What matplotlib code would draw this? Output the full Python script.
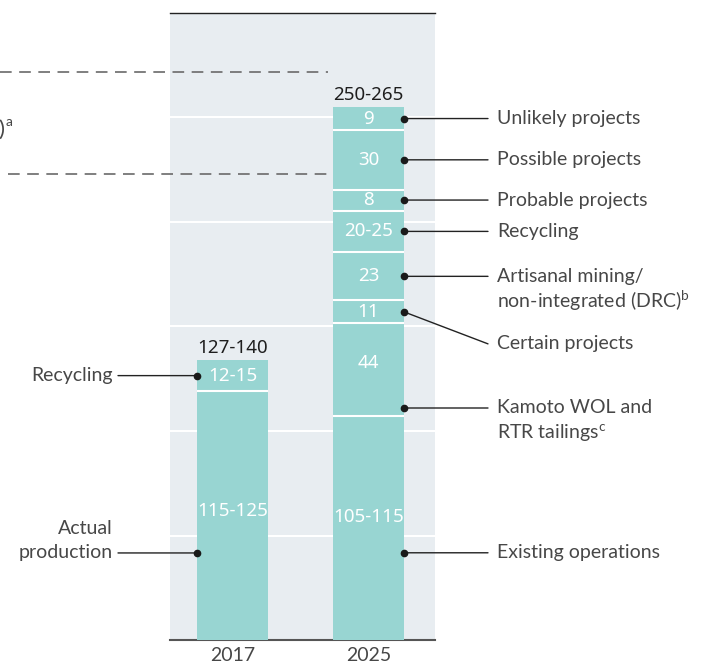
import matplotlib
matplotlib.use('Agg')
import matplotlib.pyplot as plt

plt.rcParams['font.family'] = ['Lato', 'DejaVu Sans']
plt.rcParams['mathtext.fontset'] = 'custom'
plt.rcParams['mathtext.rm'] = 'Lato'
plt.rcParams['mathtext.it'] = 'Lato'

# ---------------- data ----------------
years = ['2017', '2025']
values_2017 = [119, 15]
labels_2017 = ['115-125', '12-15']
values_2025 = [107, 44.5, 11, 23, 20, 10, 28.5, 11]
labels_2025 = ['105-115', '44', '11', '23', '20-25', '8', '30', '9']
totals = ['127-140', '250-265']
names_2017 = [['Actual', 'production'], ['Recycling']]
names_2025 = [['Existing operations'],
              ['Kamoto WOL and', r'RTR tailings$^{\mathrm{c}}$'],
              ['Certain projects'],
              ['Artisanal mining/', r'non-integrated (DRC)$^{\mathrm{b}}$'],
              ['Recycling'],
              ['Probable projects'],
              ['Possible projects'],
              ['Unlikely projects']]
grid_values = [50, 100, 150, 200, 250]
dashed_levels = [272, 223]

# ---------------- style ----------------
BAR = '#98D5D2'
PANEL = '#E8EDF1'
TXT = '#474747'
DARK = '#1e1e1e'
FS = 14
NUMFONT = ['Noto Sans', 'DejaVu Sans']
PT = 0.72  # points per pixel at dpi 100

fig = plt.figure(figsize=(7.12, 6.68), dpi=100)
ax = fig.add_axes([170 / 712, 28 / 668, 265 / 712, 627 / 668])
ax.set_facecolor(PANEL)
ax.set_xlim(-0.4596, 1.489)
ax.set_ylim(0, 300)
width = 0.522

for g in grid_values:
    ax.axhline(g, color='white', lw=1.5, zorder=1)

for sp in ['left', 'right']:
    ax.spines[sp].set_visible(False)
ax.spines['top'].set_color('#222222')
ax.spines['top'].set_linewidth(1.0)
ax.spines['bottom'].set_color('#555555')
ax.spines['bottom'].set_linewidth(1.5)
ax.set_yticks([])
ax.set_xticks([0, 1])
ax.set_xticklabels(years, fontsize=FS, color=TXT)
ax.tick_params(axis='x', length=0, pad=5)

# dashed reference lines (extend left out of panel)
ax.plot([-1.71, 0.70], [dashed_levels[0]] * 2, ls=(0, (7, 4.5)), color='#6a6a6a',
        lw=1.2, clip_on=False, zorder=2)
ax.plot([-1.65, 0.739], [dashed_levels[1]] * 2, ls=(0, (7, 4.5)), color='#6a6a6a',
        lw=1.2, clip_on=False, zorder=2)
ax.text(-1.72, 244, ')', fontsize=FS + 2, color=TXT, ha='left', va='center',
        clip_on=False)
ax.text(-1.67, 248, 'a', fontsize=FS - 4, color=TXT, ha='left', va='center',
        clip_on=False)

series = [(0, values_2017, labels_2017, names_2017, 'left', [0.35, 0.5], [0.52, 0.5]),
          (1, values_2025, labels_2025, names_2025, 'right',
           [0.39, 0.09, 0.5, 0.5, 0.5, 0.5, 0.5, 0.5],
           [0.55, 0.57, 0.5, 0.5, 0.5, 0.5, 0.5, 0.5])]
text_dy = {('right', 2): -32}
line_gap = 24.5

for i, (x, vals, labs, names, side, fracs, lfracs) in enumerate(series):
    bottom = 0
    for j, (v, lab) in enumerate(zip(vals, labs)):
        ax.bar(x, v, width=width, bottom=bottom, color=BAR, linewidth=0, zorder=3)
        if j > 0:
            ax.hlines(bottom, x - width / 2, x + width / 2, color='white', lw=1.5, zorder=3.5)
        ax.text(x, bottom + v * lfracs[j], lab, ha='center', va='center', color='white',
                fontsize=FS - 0.5, family=NUMFONT, zorder=4)
        # annotation
        yd = bottom + v * fracs[j]
        if side == 'right':
            xd = x + width / 2
            ddy = text_dy.get((side, j), 0)
            ax.annotate('', xy=(xd, yd), xytext=(84 * PT, ddy * PT),
                        textcoords='offset points',
                        arrowprops=dict(arrowstyle='-', lw=1.0, color='#222222',
                                        shrinkA=0, shrinkB=0), annotation_clip=False)
            for k, line in enumerate(names[j]):
                ax.annotate(line, xy=(xd, yd), xytext=(93 * PT, (ddy - k * line_gap) * PT),
                            textcoords='offset points', ha='left', va='center',
                            fontsize=FS, color=TXT, annotation_clip=False)
        else:
            xd = x - width / 2
            ax.annotate('', xy=(xd, yd), xytext=(-79 * PT, 0),
                        textcoords='offset points',
                        arrowprops=dict(arrowstyle='-', lw=1.0, color='#222222',
                                        shrinkA=0, shrinkB=0), annotation_clip=False)
            n = len(names[j])
            for k, line in enumerate(names[j]):
                ax.annotate(line, xy=(xd, yd), xytext=(-84 * PT, (n - 1 - k) * line_gap * PT),
                            textcoords='offset points', ha='right', va='center',
                            fontsize=FS, color=TXT, annotation_clip=False)
        ax.plot(xd, yd, 'o', ms=4.5, color='#1a1a1a', clip_on=False, zorder=6)
        bottom += v
    ax.annotate(totals[i], xy=(x, bottom), xytext=(0, 2), textcoords='offset points',
                ha='center', va='bottom', fontsize=FS - 0.5, family=NUMFONT, color=DARK,
                zorder=4)

fig.savefig('out.png', dpi=100)
